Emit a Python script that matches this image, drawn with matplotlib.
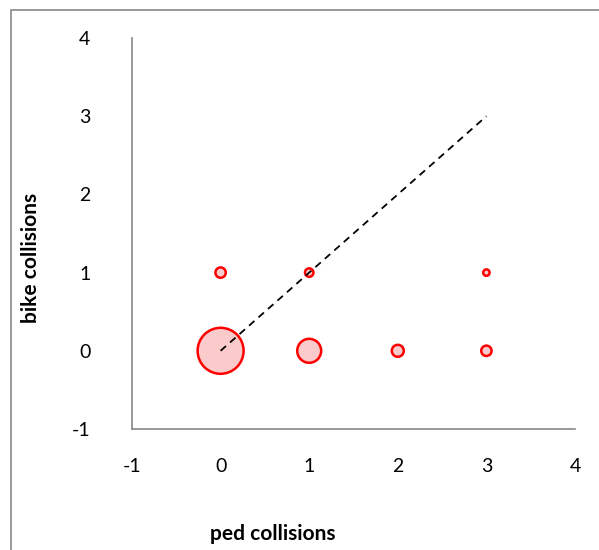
import numpy as np
import matplotlib.pyplot as plt
from matplotlib.patches import Rectangle

# data
ped = [0, 1, 2, 3, 0, 1, 3]
bike = [0, 0, 0, 0, 1, 1, 1]
counts = [59, 16, 4, 3, 3, 2, 1]

line_x = [0, 3]
line_y = [0, 3]

ticks = [-1, 0, 1, 2, 3, 4]

plt.rcParams['font.family'] = ['Lato', 'DejaVu Sans']
plt.rcParams['axes.unicode_minus'] = False

fig = plt.figure(figsize=(5.99, 5.5), dpi=100)
ax = fig.add_axes([132 / 599, 1 - 429 / 550, 443 / 599, 391 / 550])

# bubble area proportional to count, biggest radius ~23 px
counts_arr = np.array(counts, dtype=float)
r_px = 23 * np.sqrt(counts_arr / counts_arr.max())
r_px = np.maximum(r_px, 3.2)
s = (2 * r_px * 0.72) ** 2

ax.scatter(ped, bike, s=s, facecolor='#fbcaca', edgecolor='red', linewidth=1.8, zorder=3)
ax.plot(line_x, line_y, color='black', linestyle=(0, (4, 3)), linewidth=1.3, zorder=4)

ax.set_xlim(-1, 4)
ax.set_ylim(-1, 4)
ax.set_xticks(ticks)
ax.set_yticks(ticks)
ax.tick_params(length=0, labelsize=14)
ax.tick_params(axis='x', pad=21)
ax.tick_params(axis='y', pad=30)
for sp in ['top', 'right']:
    ax.spines[sp].set_visible(False)
for sp in ['left', 'bottom']:
    ax.spines[sp].set_color('#888888')
    ax.spines[sp].set_linewidth(1.2)

ax.set_xlabel('ped collisions', fontsize=15, fontweight='bold')
ax.set_ylabel('bike collisions', fontsize=15, fontweight='bold')
ax.xaxis.set_label_coords(0.318, -0.243)
ax.yaxis.set_label_coords(-0.205, 0.437)

# outer chart frame
fig.patches.append(Rectangle((11 / 599, -0.1), 1.2, 1 - 10 / 550 + 0.1,
                             transform=fig.transFigure, fill=False,
                             edgecolor='#888888', linewidth=1.2))

fig.savefig('out.png', dpi=100)
